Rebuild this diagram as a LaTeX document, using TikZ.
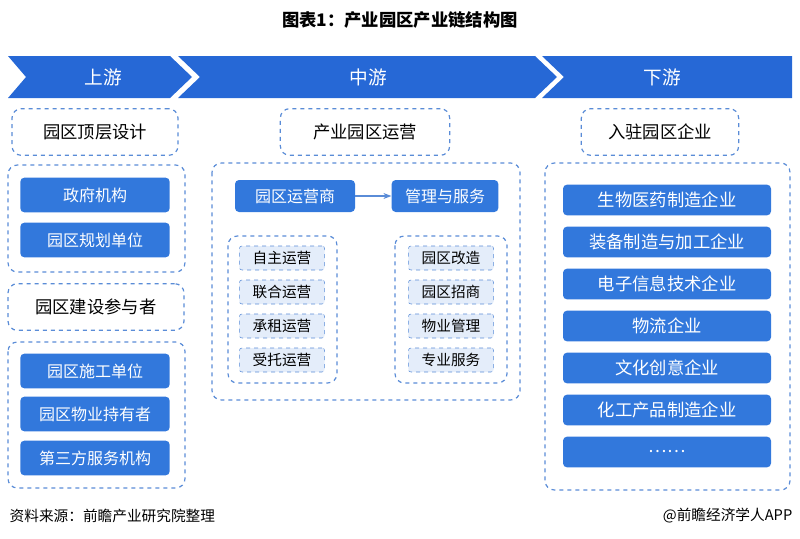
\documentclass[tikz,border=0pt]{standalone}
\usepackage{fontspec}
\setmainfont{Noto Sans CJK SC}
\usepackage{xcolor}
\usetikzlibrary{arrows.meta}
\definecolor{bandblue}{RGB}{38,104,214}
\definecolor{boxblue}{RGB}{50,120,220}
\definecolor{dashblue}{RGB}{90,140,215}
\definecolor{lightblue}{RGB}{228,237,250}
\tikzset{
  dashbox/.style={draw=dashblue,dashed,line width=0.9pt,rounded corners=7pt},
  headbox/.style={dashbox,fill=white,font=\fontsize{13}{13}\selectfont,text=black},
  bluebox/.style={fill=boxblue,rounded corners=3pt,text=white,font=\fontsize{12}{12}\selectfont},
  lightbox/.style={fill=lightblue,draw=dashblue,dashed,rounded corners=2pt,font=\fontsize{11}{11}\selectfont}
}
\begin{document}
\begin{tikzpicture}[x=0.75pt,y=0.75pt,yscale=-1,xscale=1]
    \useasboundingbox (0,0) rectangle (800,539);
    % title
    \node (title) at (400,20) {\fontsize{13}{13}\selectfont\bfseries 图表1：产业园区产业链结构图};
    % stage band
    \fill[bandblue] (8,56) -- (170,56) -- (192,77) -- (170,98) -- (8,98) -- (26,77) -- cycle;
    \fill[bandblue] (178,56) -- (535,56) -- (557,77) -- (535,98) -- (178,98) -- (200,77) -- cycle;
    \fill[bandblue] (542,56) -- (792,56) -- (792,98) -- (542,98) -- (564,77) -- cycle;
    \node[text=white,font=\fontsize{14}{14}\selectfont] (up) at (103,77) {上游};
    \node[text=white,font=\fontsize{14}{14}\selectfont] (mid) at (368,77) {中游};
    \node[text=white,font=\fontsize{14}{14}\selectfont] (down) at (662,77) {下游};
    % upstream
    \node[headbox,minimum width=124.5pt,minimum height=35pt] (top) at (95,132) {园区顶层设计};
    \draw[dashbox] (8,165) rectangle (185,272);
    \node[bluebox,minimum width=112pt,minimum height=26pt] (gov) at (95,195) {政府机构};
    \node[bluebox,minimum width=112pt,minimum height=26pt] (plan) at (95,240) {园区规划单位};
    \node[headbox,minimum width=132pt,minimum height=35pt] (build) at (96,307) {园区建设参与者};
    \draw[dashbox] (8,342) rectangle (185,488);
    \node[bluebox,minimum width=112pt,minimum height=26pt] (cons) at (95,371) {园区施工单位};
    \node[bluebox,minimum width=112pt,minimum height=26pt] (own) at (95,414) {园区物业持有者};
    \node[bluebox,minimum width=112pt,minimum height=26pt] (third) at (95,458) {第三方服务机构};
    % midstream
    \node[headbox,minimum width=127pt,minimum height=35pt] (oper) at (365,132) {产业园区运营};
    \draw[dashbox] (212,163) rectangle (520,400);
    \node[bluebox,minimum width=90pt,minimum height=24pt] (opco) at (295,196) {园区运营商};
    \node[bluebox,minimum width=80pt,minimum height=24pt] (serv) at (445,196) {管理与服务};
    \draw[-{Stealth[length=6pt]},dashblue,line width=0.8pt] (opco) -- (serv);
    \draw[dashbox] (228,236) rectangle (337,383);
    \draw[dashbox] (395,236) rectangle (507,383);
    \foreach \t [count=\i] in {自主运营,联合运营,承租运营,受托运营}
      \node[lightbox,minimum width=64pt,minimum height=18pt] (mode\i) at (282,258+34*\i-34) {\t};
    \foreach \t [count=\i] in {园区改造,园区招商,物业管理,专业服务}
      \node[lightbox,minimum width=64pt,minimum height=18pt] (task\i) at (451,258+34*\i-34) {\t};
    % downstream
    \node[headbox,minimum width=118pt,minimum height=35pt] (ent) at (660,132) {入驻园区企业};
    \draw[dashbox] (545,163) rectangle (790,490);
    \foreach \t [count=\i] in {生物医药制造企业,装备制造与加工企业,电子信息技术企业,物流企业,文化创意企业,化工产品制造企业,……}
      \node[bluebox,minimum width=156pt,minimum height=23pt,font=\fontsize{13}{13}\selectfont] (firm\i) at (667,200+42*\i-42) {\t};
    % footer
    \node[anchor=west,font=\fontsize{11}{11}\selectfont] (src) at (5,516) {资料来源：前瞻产业研究院整理};
    \node[anchor=east,font=\fontsize{11}{11}\selectfont] (app) at (797,516) {@前瞻经济学人APP};
\end{tikzpicture}
\end{document}
